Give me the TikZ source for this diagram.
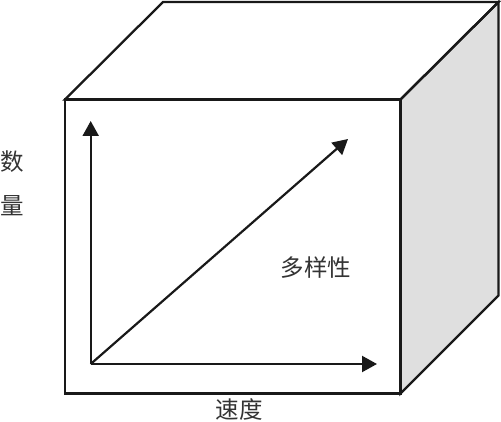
\documentclass[tikz,border=0pt]{standalone}
\usepackage{fontspec}
\newfontfamily\cjk{Noto Sans CJK SC}
\usetikzlibrary{arrows.meta}
\begin{document}
\begin{tikzpicture}[x=1pt,y=-1pt,
  edge/.style={line width=2.3pt,line join=miter,draw=black!90},
  axis/.style={line width=2.2pt,draw=black!90,-{Triangle[length=15pt,width=16pt]}},
  lbl/.style={font=\cjk\fontsize{23.5}{26}\selectfont,text=black!80,inner sep=0pt}]
\useasboundingbox (0,0) rectangle (501,422);
\coordinate (A) at (65,99.5);
\coordinate (B) at (400.5,99.5);
\coordinate (C) at (400.5,393.5);
\coordinate (D) at (65,393.5);
\coordinate (E) at (163,2);
\coordinate (F) at (498.5,2);
\coordinate (G) at (498.5,295.5);
\fill[gray!25] (B) -- (F) -- (G) -- (C) -- cycle;
\draw[edge] (A) -- (E) -- (F) -- (B) -- cycle;
\draw[edge] (B) -- (F) -- (G) -- (C) -- cycle;
\draw[edge] (A) rectangle (C);
\coordinate (O) at (90.7,364);
\coordinate (Y) at (90.7,121);
\coordinate (X) at (377,364);
\coordinate (Z) at (348,139);
\draw[axis] (O) -- (Y);
\draw[axis] (O) -- (X);
\draw[axis] (O) -- (Z);
\node[lbl] (l1) at (12,162) {数};
\node[lbl] (l2) at (12,206) {量};
\node[lbl] (l3) at (316,268) {多样性};
\node[lbl] (l4) at (239,410) {速度};
\end{tikzpicture}
\end{document}
